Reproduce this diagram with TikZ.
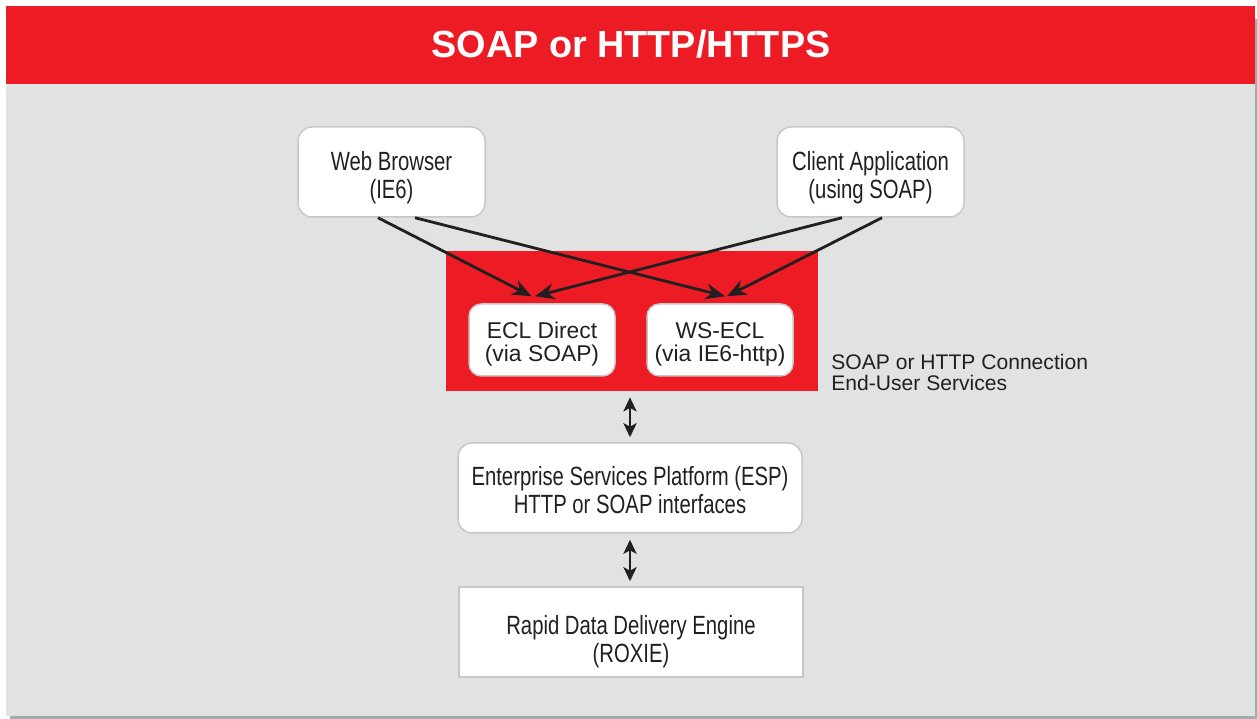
\documentclass[tikz,border=0pt]{standalone}
\usepackage{fontspec}
\setmainfont{Liberation Sans}
\newfontfamily\narrowfont[FakeStretch=0.77]{Liberation Sans}
\usepackage{tikz}
\usetikzlibrary{arrows.meta, calc, positioning}

\definecolor{hpccred}{HTML}{ED1C24}
\definecolor{panelgray}{HTML}{E1E3E2}
\definecolor{shadowgray}{HTML}{A7A9AC}
\definecolor{edgegray}{HTML}{C5C7C8}
\definecolor{inkblack}{HTML}{231F20}

\newcommand\firstline[1]{\rule{0pt}{#1}}

\tikzset{
	clientbox/.style={draw=edgegray, line width=0.85pt, fill=white, rounded corners=8pt,
		minimum width=3.74cm, minimum height=1.8cm, align=center, text=inkblack,
		font=\narrowfont\fontsize{15}{16}\selectfont},
	servicebox/.style={draw=edgegray, line width=0.85pt, fill=white, rounded corners=7pt,
		minimum width=2.92cm, minimum height=1.44cm, align=center, text=inkblack,
		font=\fontsize{13}{13}\selectfont},
	platformbox/.style={clientbox, minimum width=6.88cm},
	enginebox/.style={platformbox, sharp corners},
	feed/.style={draw=inkblack, line width=1.6pt, -{Stealth[length=11pt, width=9pt, inset=3.5pt]}},
	link/.style={draw=inkblack, line width=1.5pt, {Stealth[length=8pt, width=7.5pt, inset=2pt]}-{Stealth[length=8pt, width=7.5pt, inset=2pt]}}
}

\begin{document}
\begin{tikzpicture}
								\useasboundingbox (0,0) rectangle (25.14,14.38);

								\fill[shadowgray] (0.20,0) rectangle (25.14,14.00);
								\fill[panelgray] (0.12,0.06) rectangle (25.10,12.70);
								\fill[hpccred] (0.12,12.70) rectangle (25.10,14.26);

								\node[text=white, font=\bfseries\fontsize{21.5}{24}\selectfont] (title) at (12.62,13.50) {SOAP or HTTP/HTTPS};

								\node[clientbox] (browser) at (7.83,10.94) {\firstline{17.8pt}Web Browser\\(IE6)};
								\node[clientbox] (client) at (17.41,10.94) {\firstline{17.8pt}Client Application\\(using SOAP)};

								\node[fill=hpccred, minimum width=7.44cm, minimum height=2.8cm] (services) at (12.64,7.96) {};
								\node[servicebox] (ecl) at (10.84,7.58) {\firstline{14pt}ECL Direct\\(via SOAP)};
								\node[servicebox] (wsecl) at (14.40,7.58) {\firstline{14pt}WS-ECL\\(via IE6-http)};
								\node[anchor=west, inner sep=0pt, align=left, text=inkblack, font=\fontsize{12}{12}\selectfont] (note) at (16.62,6.93) {SOAP or HTTP Connection\\End-User Services};

								\node[platformbox] (esp) at (12.60,4.62) {\firstline{13.3pt}Enterprise Services Platform (ESP)\\HTTP or SOAP interfaces};
								\node[enginebox] (roxie) at (12.62,1.74) {\firstline{21.8pt}Rapid Data Delivery Engine\\(ROXIE)};

								\draw[feed] ([xshift=-0.27cm]browser.south) -- ($(ecl.north)+(-0.21,0.14)$);
								\draw[feed] ([xshift=0.47cm]browser.south) -- ($(wsecl.north)+(0.10,0.14)$);
								\draw[feed] ([xshift=-0.57cm]client.south) -- ($(ecl.north)+(-0.14,0.14)$);
								\draw[feed] ([xshift=0.23cm]client.south) -- ($(wsecl.north)+(0.14,0.14)$);

								\draw[link] ([yshift=-0.12cm]services.south -| esp.north) -- ([yshift=0.10cm]esp.north);
								\draw[link] ([yshift=-0.12cm]esp.south) -- ([yshift=0.10cm]esp.south |- roxie.north);
\end{tikzpicture}
\end{document}
